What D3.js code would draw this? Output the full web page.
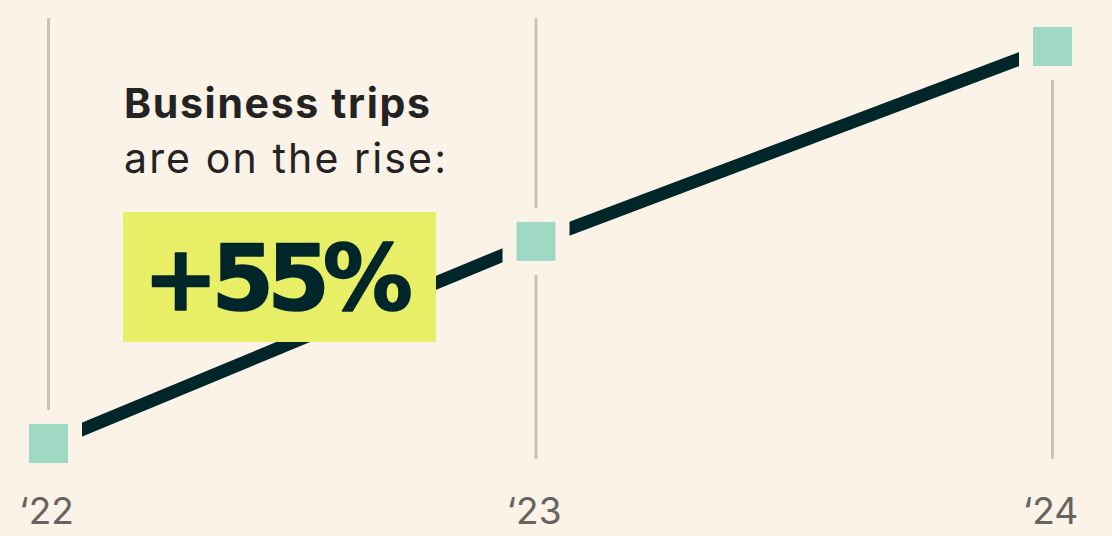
<!DOCTYPE html>
<html lang="en">
<head>
<meta charset="UTF-8">
<title>Business trips</title>
<script src="https://cdn.jsdelivr.net/npm/d3@7"></script>
<style>
html,body{margin:0;padding:0;background:#fbf2e8;}
svg{display:block;}
</style>
</head>
<body>
<script>
const years = [2022, 2023, 2024];
const yearLabels = ["\u201822", "\u201823", "\u201824"];
const trips = [100, 128, 155];
const headline = "Business trips";
const subline = "are on the rise:";
const bigNumber = "+55%";

const width = 1112, height = 536;
const bg = "#fbf2e8";

const svg = d3.select("body").append("svg")
    .attr("width", width)
    .attr("height", height)
    .style("background", bg);

// the middle year sits a little left of centre in the original
const x = d3.scaleLinear().domain(years).range([48.5, 536, 1052.5]);
const y = d3.scaleLinear().domain([100, 155]).range([443.5, 46.5]);

// spread letters so a text takes the given width
function fit(sel, w) {
    const n = sel.text().length;
    const len = sel.node().getComputedTextLength();
    sel.attr("letter-spacing", ((w - len) / (n - 1)).toFixed(2));
}

svg.append("g").selectAll("line")
    .data(years)
    .join("line")
    .attr("x1", d => x(d)).attr("x2", d => x(d))
    .attr("y1", 18).attr("y2", 459)
    .attr("stroke", "#c9c5bd")
    .attr("stroke-width", 3);

const pts = years.map((d, i) => ({year: d, v: trips[i]}));

svg.append("path")
    .datum(pts)
    .attr("fill", "none")
    .attr("stroke", "#00262a")
    .attr("stroke-width", 13)
    .attr("d", d3.line().x(d => x(d.year)).y(d => y(d.v)));

// markers, with a halo in the background colour that cuts line and guides
const size = 39;
svg.append("g").selectAll("rect")
    .data(pts)
    .join("rect")
    .attr("x", d => x(d.year) - size / 2)
    .attr("y", d => y(d.v) - size / 2)
    .attr("width", size).attr("height", size)
    .attr("fill", "#9fd9c4")
    .attr("stroke", bg)
    .attr("stroke-width", 28)
    .attr("paint-order", "stroke");

svg.append("g").selectAll("text")
    .data(years)
    .join("text")
    .attr("x", d => x(d) - 2)
    .attr("y", 524)
    .attr("text-anchor", "middle")
    .attr("font-family", "Inter, sans-serif")
    .attr("font-size", 37)
    .attr("fill", "#67645f")
    .text((d, i) => yearLabels[i]);

const t1 = svg.append("text")
    .attr("x", 124).attr("y", 118)
    .attr("font-family", "Inter, sans-serif")
    .attr("font-weight", 700)
    .attr("font-size", 41)
    .attr("fill", "#232323")
    .text(headline);
fit(t1, 306);

const t2 = svg.append("text")
    .attr("x", 124).attr("y", 173)
    .attr("font-family", "Inter, sans-serif")
    .attr("font-weight", 400)
    .attr("font-size", 41)
    .attr("fill", "#232323")
    .text(subline);
fit(t2, 322);

svg.append("rect")
    .attr("x", 123).attr("y", 212)
    .attr("width", 313).attr("height", 130)
    .attr("fill", "#e8ef66");

const t3 = svg.append("text")
    .attr("x", 143).attr("y", 310)
    .attr("font-family", "'DejaVu Sans', sans-serif")
    .attr("font-weight", 700)
    .attr("font-size", 90)
    .attr("fill", "#00262a")
    .attr("stroke", "#00262a")
    .attr("stroke-width", 1.5)
    .attr("stroke-linejoin", "round")
    .text(bigNumber);
fit(t3, 270);
</script>
</body>
</html>
